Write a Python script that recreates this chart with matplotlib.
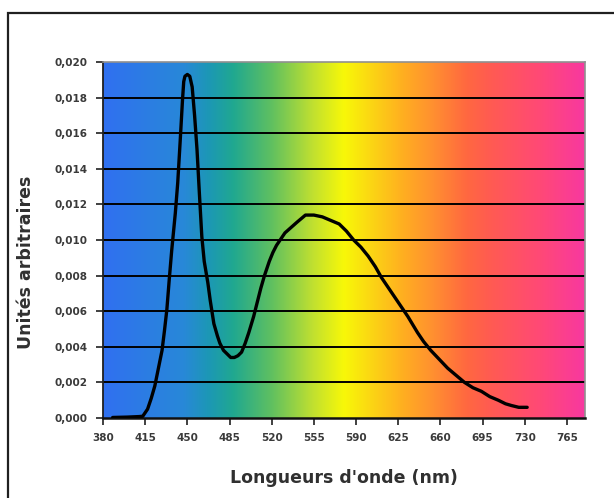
import numpy as np
import matplotlib
matplotlib.use("Agg")
import matplotlib.pyplot as plt
from matplotlib.colors import LinearSegmentedColormap
from matplotlib.patches import Rectangle

# Data
wavelength_nm = [388, 400, 410, 413, 417, 420, 423, 426, 429, 431, 433, 435, 437,
                 440, 442, 444, 446, 447, 448, 450, 452, 454, 456, 458, 460, 462,
                 464, 467, 469, 472, 475, 477, 480, 483, 486, 489, 492, 495, 498,
                 501, 505, 508, 511, 514, 518, 521, 524, 527, 531, 536, 541, 548,
                 555, 562, 569, 576, 582, 588, 594, 600, 606, 611, 617, 622, 628,
                 633, 641, 646, 652, 659, 666, 673, 680, 687, 694, 701, 708, 714,
                 719, 725, 732]
intensity = [0.00003, 0.00005, 0.00008, 0.0001, 0.0005, 0.0011, 0.0018, 0.0028,
             0.0038, 0.0049, 0.0061, 0.0078, 0.0094, 0.0115, 0.0132, 0.0155,
             0.0179, 0.0189, 0.0192, 0.0193, 0.0192, 0.0186, 0.0170, 0.0151,
             0.0126, 0.0102, 0.0088, 0.0076, 0.0066, 0.0053, 0.0046, 0.0042,
             0.0038, 0.0036, 0.0034, 0.0034, 0.0035, 0.0037, 0.0042, 0.0048,
             0.0057, 0.0065, 0.0073, 0.0080, 0.0088, 0.0093, 0.0097, 0.0100,
             0.0104, 0.0107, 0.0110, 0.0114, 0.0114, 0.0113, 0.0111, 0.0109,
             0.0105, 0.0100, 0.0096, 0.0091, 0.0085, 0.0079, 0.0073, 0.0068,
             0.0062, 0.0057, 0.0048, 0.0043, 0.0038, 0.0033, 0.0028, 0.0024,
             0.0020, 0.0017, 0.0015, 0.0012, 0.0010, 0.0008, 0.0007, 0.0006,
             0.0006]
x_ticks = [380, 415, 450, 485, 520, 555, 590, 625, 660, 695, 730, 765]
y_ticks = [0.000, 0.002, 0.004, 0.006, 0.008, 0.010, 0.012, 0.014, 0.016, 0.018, 0.020]
y_tick_labels = ["0,000", "0,002", "0,004", "0,006", "0,008", "0,010",
                 "0,012", "0,014", "0,016", "0,018", "0,020"]

X_MIN, X_MAX = 380, 780
Y_MIN, Y_MAX = 0.0, 0.020

# background spectrum colours (position along axis 0..1)
spectrum = [
    (0.00, "#3070f0"),
    (0.166, "#2888d8"),
    (0.22, "#1c98b4"),
    (0.27, "#20a890"),
    (0.35, "#60c060"),
    (0.435, "#c0e030"),
    (0.50, "#f8f808"),
    (0.62, "#ffb020"),
    (0.685, "#ff9030"),
    (0.755, "#ff6840"),
    (0.80, "#ff5c50"),
    (0.913, "#ff4878"),
    (1.00, "#f838a0"),
]
cmap = LinearSegmentedColormap.from_list("spec", spectrum)

fig = plt.figure(figsize=(6.14, 4.98), dpi=100)
ax = fig.add_axes([103 / 614, 1 - 418 / 498, (585 - 103) / 614, (418 - 62) / 498])

grad = np.linspace(0, 1, 512).reshape(1, -1)
ax.imshow(grad, cmap=cmap, aspect="auto", extent=[X_MIN, X_MAX, Y_MIN, Y_MAX],
          zorder=0, interpolation="bicubic")

for yv in y_ticks[1:-1]:
    ax.axhline(yv, color="black", lw=1.4, zorder=1)

ax.plot(wavelength_nm, intensity, color="black", lw=2.4, zorder=3,
        solid_joinstyle="round", solid_capstyle="round")

ax.set_xlim(X_MIN, X_MAX)
ax.set_ylim(Y_MIN, Y_MAX)
ax.set_xticks(x_ticks)
ax.set_xticklabels([str(v) for v in x_ticks])
ax.set_yticks(y_ticks)
ax.set_yticklabels(y_tick_labels)

ax.tick_params(axis="both", direction="out", length=5, width=1.2, color="#202020",
               labelsize=7.5, labelcolor="#3a3a3a")
ax.tick_params(axis="y", pad=6)
ax.tick_params(axis="x", pad=6)
for lab in ax.get_xticklabels() + ax.get_yticklabels():
    lab.set_fontweight("bold")

for side in ["top", "right"]:
    ax.spines[side].set_color("#909090")
    ax.spines[side].set_linewidth(1.2)
ax.spines["left"].set_color("#202020")
ax.spines["left"].set_linewidth(1.3)
ax.spines["bottom"].set_color("#101010")
ax.spines["bottom"].set_linewidth(1.8)

fig.text(344 / 614, 1 - 478 / 498, "Longueurs d'onde (nm)", ha="center", va="center",
         fontsize=12.5, fontweight="bold", color="#303030")
fig.text(26 / 614, 1 - 262 / 498, "Unités arbitraires", ha="center", va="center",
         rotation=90, fontsize=12.5, fontweight="bold", color="#303030")

fig.patches.append(Rectangle((8 / 614, -0.1), 1.2, 1.1 - 13 / 498,
                             transform=fig.transFigure, fill=False,
                             edgecolor="#202020", lw=1.6))

fig.savefig("out.png", dpi=100)
